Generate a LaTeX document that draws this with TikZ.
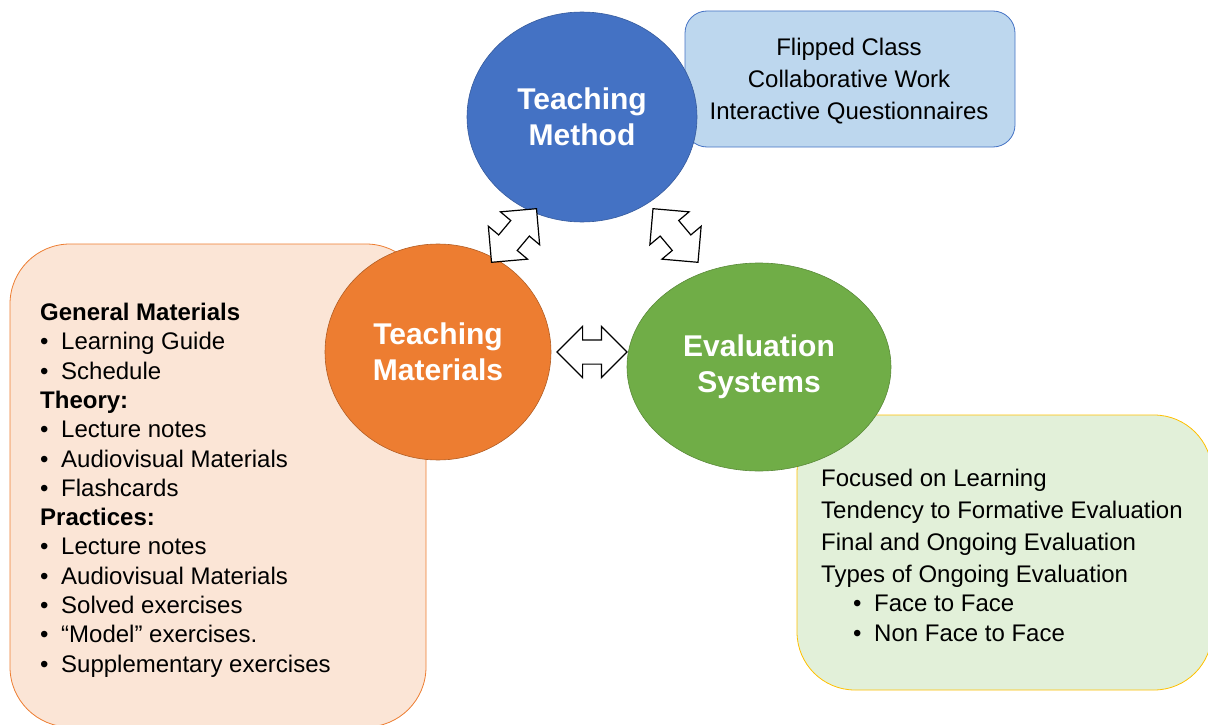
\documentclass[tikz,border=0pt]{standalone}
\usepackage{fontspec}
\setmainfont{Liberation Sans}
\usetikzlibrary{shapes.geometric,shapes.arrows}
\definecolor{methodblue}{HTML}{4472C4}
\definecolor{methodfill}{HTML}{BDD7EE}
\definecolor{matorange}{HTML}{ED7D31}
\definecolor{matfill}{HTML}{FBE5D6}
\definecolor{evalgreen}{HTML}{70AD47}
\definecolor{evalfill}{HTML}{E2F0D9}
\definecolor{evaledge}{HTML}{FFC000}
\newcommand{\bulit}{\makebox[21pt][l]{\textbullet}}

\begin{document}
\begin{tikzpicture}[x=1pt,y=-1pt,
	circ/.style={ellipse,inner sep=0pt,align=center,text=white,line width=0.6pt,font=\fontsize{30}{36}\selectfont\bfseries},
	box/.style={rounded corners=#1,line width=0.8pt},
	dblarrow/.style={double arrow,draw=black,fill=white,line width=1.2pt,inner xsep=0pt,inner ysep=11.5pt,minimum height=70pt,double arrow head extend=13.5pt},
	txt/.style={inner sep=0pt,font=\fontsize{24}{29.3}\selectfont}]
	\useasboundingbox (0,0) rectangle (1208,725);
	\draw [box=22pt,draw=methodblue,fill=methodfill] (685,11) rectangle (1015,147);
	\draw [box=60pt,draw=matorange,fill=matfill] (10,244) rectangle (426,727);
	\draw [box=58pt,draw=evaledge,fill=evalfill] (797,415) rectangle (1212,690);
	\node [txt,align=center,font=\fontsize{24}{32}\selectfont] (methodtext) at (849,81) {Flipped Class\\Collaborative Work\\Interactive Questionnaires};
	\node [txt,anchor=north west,align=left] (mattext) at (40,303) {\textbf{General Materials}\\\bulit Learning Guide\\\bulit Schedule\\\textbf{Theory:}\\\bulit Lecture notes\\\bulit Audiovisual Materials\\\bulit Flashcards\\\textbf{Practices:}\\\bulit Lecture notes\\\bulit Audiovisual Materials\\\bulit Solved exercises\\\bulit “Model” exercises.\\\bulit Supplementary exercises};
	\node [txt,anchor=north west,align=left] (evaltext) at (821,469) {Focused on Learning\\[2.7pt]Tendency to Formative Evaluation\\[2.7pt]Final and Ongoing Evaluation\\[2.7pt]Types of Ongoing Evaluation\\\hspace*{32pt}\bulit Face to Face\\\hspace*{32pt}\bulit Non Face to Face};
	\node [circ,fill=methodblue,draw=methodblue!80!black,minimum width=230pt,minimum height=210pt] (method) at (582,117) {Teaching\\Method};
	\node [circ,fill=matorange,draw=matorange!75!black,minimum width=226pt,minimum height=216pt] (materials) at (438,352) {Teaching\\Materials};
	\node [circ,fill=evalgreen,draw=evalgreen!80!black,minimum width=264pt,minimum height=208pt] (evaluation) at (759,367) {Evaluation\\Systems};
	\node [dblarrow,rotate=50] (a1) at (514,235.5) {};
	\node [dblarrow,rotate=-50] (a2) at (675.5,235.5) {};
	\node [dblarrow] (a3) at (592,352) {};
\end{tikzpicture}
\end{document}
